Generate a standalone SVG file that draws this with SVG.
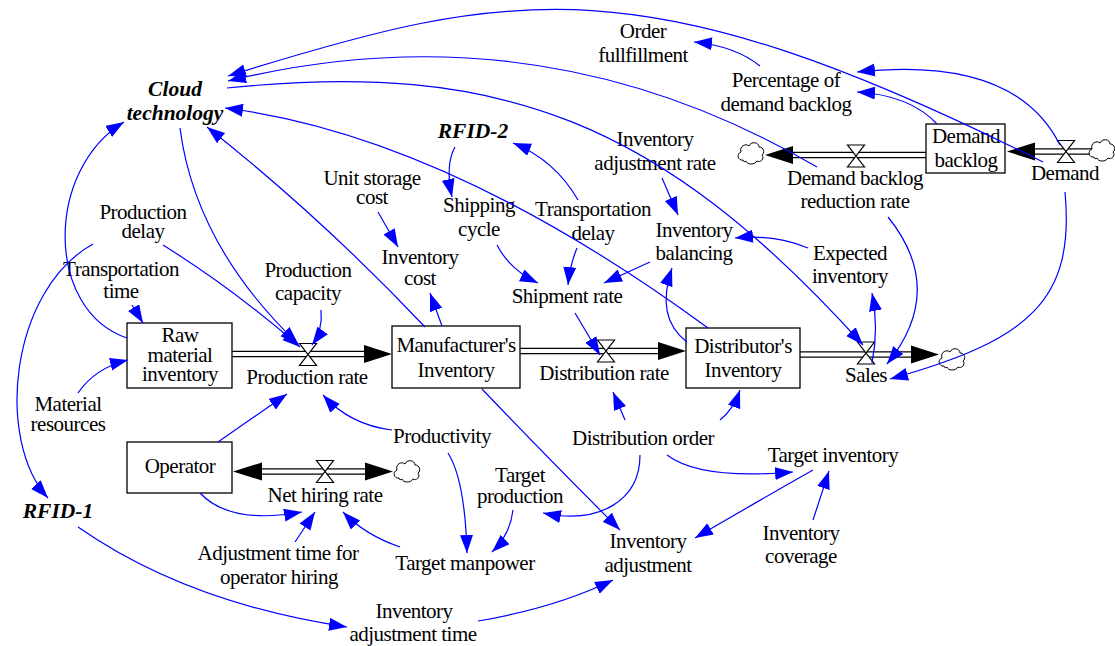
<svg xmlns="http://www.w3.org/2000/svg" width="1115" height="646" viewBox="0 0 1115 646">
<style>
.t{font-family:"Liberation Serif","Times New Roman",serif;font-size:21px;letter-spacing:-0.5px;text-anchor:middle;fill:#000}
.b{font-weight:bold;font-style:italic;font-size:21.5px;letter-spacing:0}
.box{fill:#fff;stroke:#000;stroke-width:1.3}
.c{fill:none;stroke:#0000FF;stroke-width:1.2;marker-end:url(#a)}
.po{stroke:#000;stroke-width:6.5;fill:none}
.pi{stroke:#fff;stroke-width:4;fill:none}
.v{fill:#fff;stroke:#000;stroke-width:1.2}
.cl{fill:#fff;stroke:#000;stroke-width:1}
.ah{fill:#000}
</style>
<defs>
<marker id="a" markerWidth="19" markerHeight="14" refX="18" refY="6.5" orient="auto" markerUnits="userSpaceOnUse"><path d="M0,0 L18,6.5 L0,13 Z" fill="#0000FF"/></marker>
<path id="cloud" d="M-8,7 C-13,8 -15,1 -10,-1 C-12,-7 -5,-10 -2,-7 C0,-12 8,-11 8,-6 C13,-6 14,0 11,2 C14,6 9,10 6,8 C4,12 -4,12 -5,8 C-6,9 -8,9 -8,7 Z"/>
<path id="valve" d="M-8.5,-11 L8.5,-11 L-8.5,11 L8.5,11 Z"/>
</defs>
<rect width="1115" height="646" fill="#fff"/>

<g id="flow-production-rate">
<path class="po" d="M232,354 H366"/><path class="pi" d="M230,354 H366"/>
<polygon class="ah" points="392,354 364,345 364,363"/>
<use href="#valve" class="v" x="308" y="354.5"/>
<text class="t" x="307" y="384">Production rate</text>
</g>
<g id="flow-distribution-rate">
<path class="po" d="M520,351 H660"/><path class="pi" d="M518,351 H660"/>
<polygon class="ah" points="686,351 658,342 658,360"/>
<use href="#valve" class="v" x="606" y="351"/>
<text class="t" x="604" y="380">Distribution rate</text>
</g>
<g id="flow-sales">
<path class="po" d="M800,354.5 H913"/><path class="pi" d="M798,354.5 H913"/>
<polygon class="ah" points="939,354.5 911,345.5 911,363.5"/>
<use href="#valve" class="v" x="866" y="353"/>
<use href="#cloud" class="cl" x="952" y="359"/>
<text class="t" x="866" y="382">Sales</text>
</g>
<g id="flow-net-hiring-rate">
<path class="po" d="M260,471.5 H367"/><path class="pi" d="M258,471.5 H369"/>
<polygon class="ah" points="233,471.5 262,462.5 262,480.5"/>
<polygon class="ah" points="393,471.5 365,462.5 365,480.5"/>
<use href="#valve" class="v" x="325" y="471.5"/>
<use href="#cloud" class="cl" x="407" y="471"/>
<text class="t" x="325" y="502">Net hiring rate</text>
</g>
<g id="flow-demand">
<path class="po" d="M1092,151.5 H1033"/><path class="pi" d="M1092,151.5 H1033"/>
<polygon class="ah" points="1007,151.5 1035,142.5 1035,160.5"/>
<use href="#valve" class="v" x="1066" y="151.5"/>
<use href="#cloud" class="cl" x="1102" y="150"/>
<text class="t" x="1065" y="180">Demand</text>
</g>
<g id="flow-demand-backlog-reduction-rate">
<path class="po" d="M926,155 H791"/><path class="pi" d="M928,155 H791"/>
<polygon class="ah" points="765,155 793,146 793,164"/>
<use href="#valve" class="v" x="856" y="156"/>
<use href="#cloud" class="cl" x="751" y="153"/>
<text class="t" x="855" y="185">Demand backlog</text>
<text class="t" x="855" y="208">reduction rate</text>
</g>

<g id="stock-raw-material-inventory">
<rect class="box" x="127" y="323" width="105" height="65"/>
<text class="t" x="180" y="342">Raw</text><text class="t" x="180" y="362">material</text><text class="t" x="180" y="381">inventory</text>
</g>
<g id="stock-manufacturers-inventory">
<rect class="box" x="392" y="326" width="128" height="62"/>
<text class="t" x="456" y="352">Manufacturer's</text><text class="t" x="456" y="377">Inventory</text>
</g>
<g id="stock-distributors-inventory">
<rect class="box" x="686" y="328" width="114" height="60"/>
<text class="t" x="743" y="353">Distributor's</text><text class="t" x="743" y="377">Inventory</text>
</g>
<g id="stock-operator">
<rect class="box" x="127" y="442" width="105" height="51"/>
<text class="t" x="180" y="473">Operator</text>
</g>
<g id="stock-demand-backlog">
<rect class="box" x="926" y="124" width="79" height="49"/>
<text class="t" x="966" y="143">Demand</text><text class="t" x="966" y="167">backlog</text>
</g>

<g id="cloud-technology"><text class="t b" x="175" y="96">Cloud</text><text class="t b" x="175" y="120">technology</text></g>
<g id="order-fullfillment"><text class="t" x="643" y="38">Order</text><text class="t" x="643" y="62">fullfillment</text></g>
<g id="percentage-of-demand-backlog"><text class="t" x="786" y="87">Percentage of</text><text class="t" x="786" y="111">demand backlog</text></g>
<g id="inventory-adjustment-rate"><text class="t" x="655" y="146">Inventory</text><text class="t" x="655" y="170">adjustment rate</text></g>
<g id="rfid-2"><text class="t b" x="473" y="138">RFID-2</text></g>
<g id="unit-storage-cost"><text class="t" x="372" y="185">Unit storage</text><text class="t" x="372" y="204">cost</text></g>
<g id="shipping-cycle"><text class="t" x="479" y="212">Shipping</text><text class="t" x="479" y="236">cycle</text></g>
<g id="transportation-delay"><text class="t" x="593" y="216">Transportation</text><text class="t" x="593" y="240">delay</text></g>
<g id="inventory-balancing"><text class="t" x="694" y="237">Inventory</text><text class="t" x="694" y="260">balancing</text></g>
<g id="expected-inventory"><text class="t" x="850" y="260">Expected</text><text class="t" x="850" y="283">inventory</text></g>
<g id="production-delay"><text class="t" x="143" y="219">Production</text><text class="t" x="143" y="238">delay</text></g>
<g id="transportation-time"><text class="t" x="121" y="276">Transportation</text><text class="t" x="121" y="298">time</text></g>
<g id="production-capacity"><text class="t" x="308" y="277">Production</text><text class="t" x="308" y="300">capacity</text></g>
<g id="inventory-cost"><text class="t" x="420" y="264">Inventory</text><text class="t" x="420" y="285">cost</text></g>
<g id="shipment-rate"><text class="t" x="567" y="303">Shipment rate</text></g>
<g id="material-resources"><text class="t" x="68" y="411">Material</text><text class="t" x="68" y="431">resources</text></g>
<g id="productivity"><text class="t" x="442" y="443">Productivity</text></g>
<g id="distribution-order"><text class="t" x="643" y="445">Distribution order</text></g>
<g id="target-inventory"><text class="t" x="833" y="462">Target inventory</text></g>
<g id="target-production"><text class="t" x="520" y="482">Target</text><text class="t" x="520" y="503">production</text></g>
<g id="rfid-1"><text class="t b" x="58" y="518">RFID-1</text></g>
<g id="inventory-adjustment"><text class="t" x="648" y="548">Inventory</text><text class="t" x="648" y="572">adjustment</text></g>
<g id="inventory-coverage"><text class="t" x="801" y="540">Inventory</text><text class="t" x="801" y="563">coverage</text></g>
<g id="adjustment-time-for-operator-hiring"><text class="t" x="278" y="560">Adjustment time for</text><text class="t" x="279" y="584">operator hiring</text></g>
<g id="target-manpower"><text class="t" x="465" y="570">Target manpower</text></g>
<g id="inventory-adjustment-time"><text class="t" x="414" y="618">Inventory</text><text class="t" x="413" y="641">adjustment time</text></g>

<g id="connectors">
<path class="c" d="M1043,162 C643,-38 513,-13 228,76"/>
<path class="c" d="M817,167 Q540,5 228,81"/>
<path class="c" d="M227,88 C500,60 660,120 863,345"/>
<path class="c" d="M708,328 Q446,136 225,108"/>
<path class="c" d="M760,66 Q735,46 694,42"/>
<path class="c" d="M1060,145 Q1015,55 857,72"/>
<path class="c" d="M937,124 Q910,95 857,92"/>
<path class="c" d="M1065,192 C1075,300 1030,340 890,379"/>
<path class="c" d="M888,217 Q947,290 887,364"/>
<path class="c" d="M872,363 Q879,328 872,293"/>
<path class="c" d="M808,248 Q775,234 735,238"/>
<path class="c" d="M425,327 Q322,218 207,127"/>
<path class="c" d="M180,128 Q195,245 298,344"/>
<path class="c" d="M127,338 C45,310 45,170 124,122"/>
<path class="c" d="M93,244 C10,290 -5,440 48,498"/>
<path class="c" d="M132,305 L143,323"/>
<path class="c" d="M163,245 Q235,290 300,347"/>
<path class="c" d="M321,310 Q323,330 312,345"/>
<path class="c" d="M78,393 Q95,368 128,360"/>
<path class="c" d="M218,442 L287,394"/>
<path class="c" d="M392,430 Q350,425 323,395"/>
<path class="c" d="M378,212 L398,247"/>
<path class="c" d="M442,326 L430,293"/>
<path class="c" d="M455,147 Q445,165 452,197"/>
<path class="c" d="M578,200 Q555,160 513,143"/>
<path class="c" d="M497,245 Q510,270 538,283"/>
<path class="c" d="M577,248 Q570,265 568,285"/>
<path class="c" d="M650,262 L604,283"/>
<path class="c" d="M687,342 Q655,318 672,268"/>
<path class="c" d="M575,313 L600,355"/>
<path class="c" d="M662,178 L678,215"/>
<path class="c" d="M625,420 L613,392"/>
<path class="c" d="M720,420 Q733,410 740,390"/>
<path class="c" d="M482,389 Q545,455 620,530"/>
<path class="c" d="M200,493 Q230,525 302,512"/>
<path class="c" d="M295,542 L315,512"/>
<path class="c" d="M400,547 Q365,535 343,512"/>
<path class="c" d="M78,527 Q187,603 347,627"/>
<path class="c" d="M448,453 Q465,480 467,553"/>
<path class="c" d="M513,510 Q510,535 492,552"/>
<path class="c" d="M640,455 C640,500 600,525 543,513"/>
<path class="c" d="M478,621 Q555,608 613,580"/>
<path class="c" d="M813,470 Q760,500 695,538"/>
<path class="c" d="M667,455 Q700,480 793,472"/>
<path class="c" d="M813,520 L829,471"/>
</g>
</svg>
